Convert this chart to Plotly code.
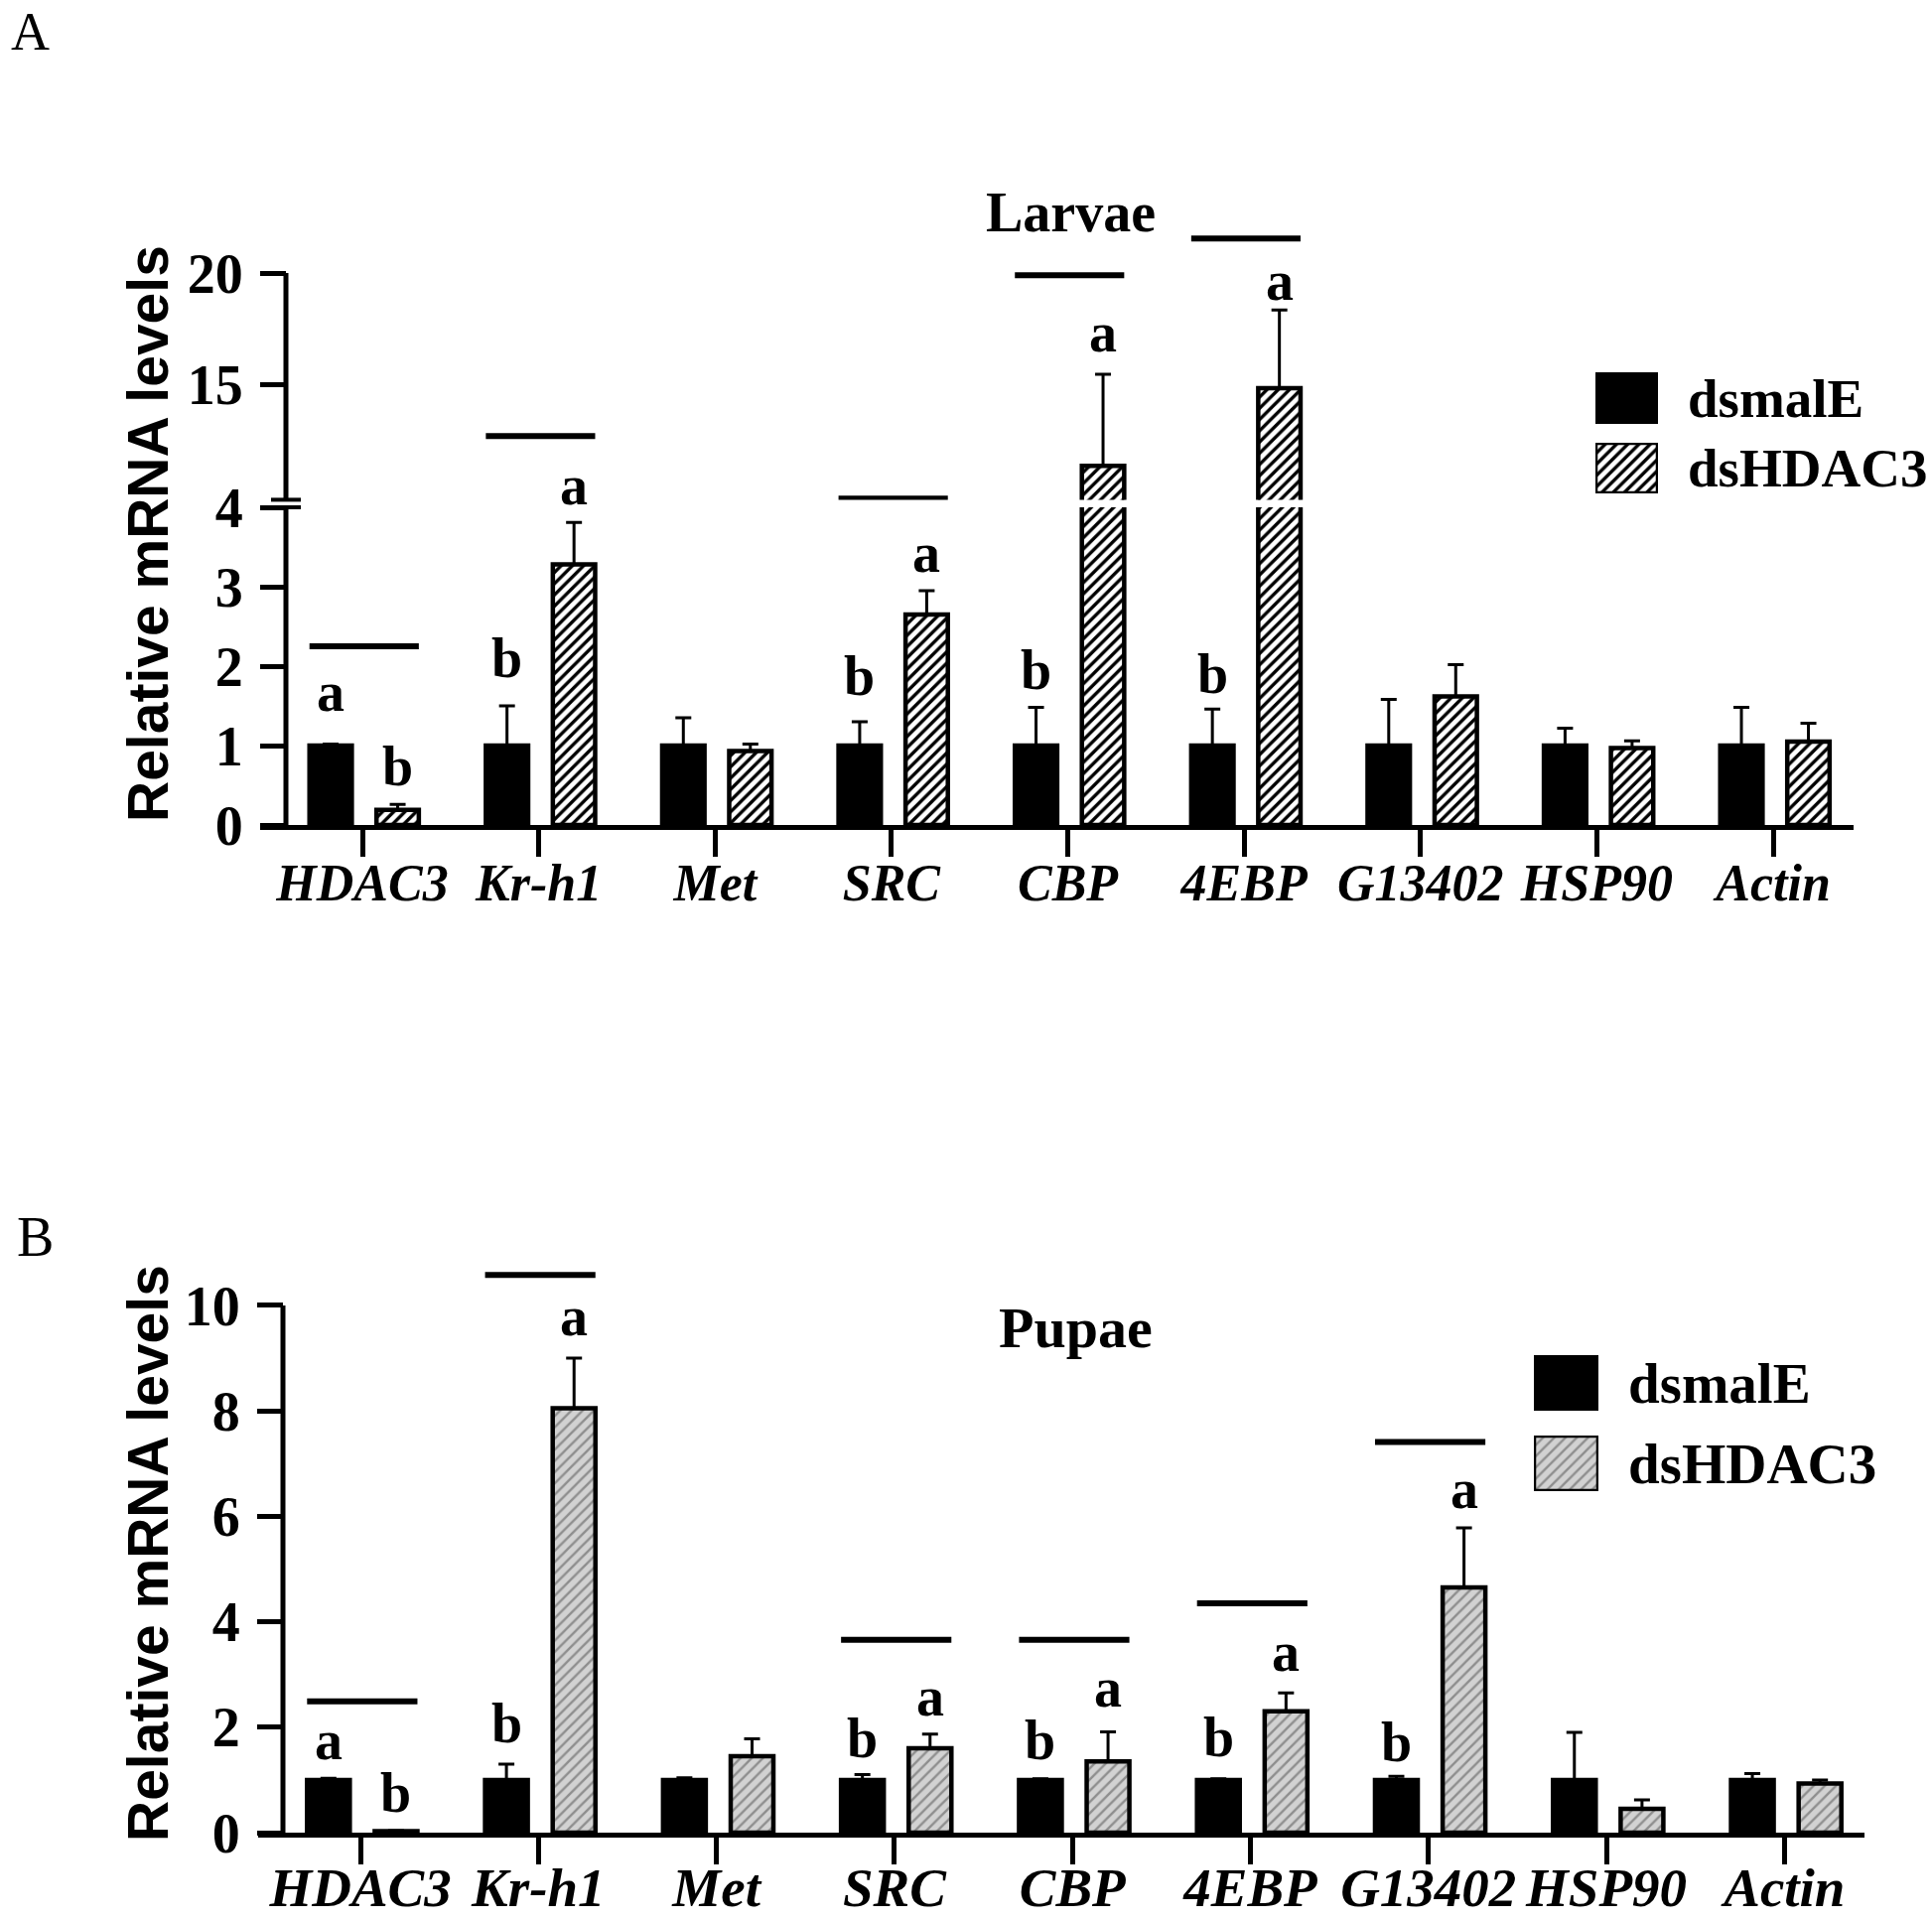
import plotly.graph_objects as go

# genes on the x axis (same order in both panels)
genes = ["HDAC3", "Kr-h1", "Met", "SRC", "CBP", "4EBP", "G13402", "HSP90", "Actin"]

# A: larvae
larvae_dsmalE = [1.0, 1.0, 1.0, 1.0, 1.0, 1.0, 1.0, 1.0, 1.0]
larvae_dsmalE_err = [0.02, 0.5, 0.35, 0.3, 0.48, 0.46, 0.58, 0.22, 0.48]
larvae_dsHDAC3 = [0.19, 3.28, 0.93, 2.65, 11.37, 14.85, 1.62, 0.97, 1.05]
larvae_dsHDAC3_err = [0.07, 0.53, 0.09, 0.3, 4.1, 3.5, 0.4, 0.09, 0.23]

larvae_line_genes = ["HDAC3", "Kr-h1", "SRC", "CBP", "4EBP"]
larvae_line_y = [2.25, 12.7, 9.9, 19.9, 21.55]
larvae_line_seg = ["lo", "up", "up", "up", "up"]

larvae_letter_genes = ["HDAC3", "HDAC3", "Kr-h1", "Kr-h1", "SRC", "SRC", "CBP", "CBP", "4EBP", "4EBP"]
larvae_letter_group = [0, 1, 0, 1, 0, 1, 0, 1, 0, 1]
larvae_letter_text = ["a", "b", "b", "a", "b", "a", "b", "a", "b", "a"]
larvae_letter_y = [1.68, 0.74, 2.1, 10.5, 1.87, 3.43, 1.95, 17.33, 1.9, 19.64]
larvae_letter_seg = ["lo", "lo", "lo", "up", "lo", "lo", "lo", "up", "lo", "up"]

# B: pupae
pupae_dsmalE = [1.0, 1.0, 1.0, 1.0, 1.0, 1.0, 1.0, 1.0, 1.0]
pupae_dsmalE_err = [0.03, 0.3, 0.04, 0.1, 0.02, 0.02, 0.07, 0.9, 0.12]
pupae_dsHDAC3 = [0.03, 8.05, 1.45, 1.6, 1.35, 2.3, 4.65, 0.45, 0.93]
pupae_dsHDAC3_err = [0.01, 0.95, 0.33, 0.27, 0.56, 0.35, 1.13, 0.17, 0.07]

pupae_line_genes = ["HDAC3", "Kr-h1", "SRC", "CBP", "4EBP", "G13402"]
pupae_line_y = [2.49, 10.58, 3.66, 3.66, 4.35, 7.41]

pupae_letter_genes = ["HDAC3", "HDAC3", "Kr-h1", "Kr-h1", "SRC", "SRC", "CBP", "CBP", "4EBP", "4EBP", "G13402", "G13402"]
pupae_letter_group = [0, 1, 0, 1, 0, 1, 0, 1, 0, 1, 0, 1]
pupae_letter_text = ["a", "b", "b", "a", "b", "a", "b", "a", "b", "a", "b", "a"]
pupae_letter_y = [1.75, 0.75, 2.08, 9.8, 1.78, 2.58, 1.75, 2.75, 1.8, 3.42, 1.72, 6.52]

series_names = ["dsmalE", "dsHDAC3"]

W, H = 1946, 1935
SERIF = "Liberation Serif"
SANS = "Liberation Sans"


def fx(px):
    return px / W


def fy(py):
    return 1 - py / H


idx = list(range(len(genes)))
BW = 0.24
OFFSETS = [-0.30, 0.08]
CENTERS = [o + BW / 2 for o in OFFSETS]

hatch_a = dict(shape="/", fgcolor="black", bgcolor="white", size=8, solidity=0.42)
hatch_b = dict(shape="/", fgcolor="#8e8e8e", bgcolor="#d2d2d2", size=8, solidity=0.3)

err_style = dict(type="data", symmetric=False, color="black", thickness=3, width=8)
OUTLINE = 4.5

fig = go.Figure()


def bar_marker(pattern):
    if pattern is None:
        return dict(color="black", line=dict(color="black", width=OUTLINE))
    return dict(color="white", line=dict(color="black", width=OUTLINE), pattern=pattern)


def add_bars(vals, errs, xa, ya, g, pattern):
    fig.add_trace(go.Bar(
        x=idx, y=vals, width=BW, offset=OFFSETS[g], xaxis=xa, yaxis=ya,
        name=series_names[g], marker=bar_marker(pattern), showlegend=False,
        error_y=dict(err_style, array=errs, arrayminus=[0] * len(errs)),
    ))


# panel A: broken axis -> same data on a lower and an upper y axis
for ya in ["y2", "y"]:
    add_bars(larvae_dsmalE, larvae_dsmalE_err, "x", ya, 0, None)
    add_bars(larvae_dsHDAC3, larvae_dsHDAC3_err, "x", ya, 1, hatch_a)

# panel B
add_bars(pupae_dsmalE, pupae_dsmalE_err, "x2", "y3", 0, None)
add_bars(pupae_dsHDAC3, pupae_dsHDAC3_err, "x2", "y3", 1, hatch_b)

# legend swatches as tiny subplots
swatches = [
    ("x3", "y4", 0, None), ("x4", "y5", 1, hatch_a),
    ("x5", "y6", 0, None), ("x6", "y7", 1, hatch_b),
]
for xa, ya, g, pat in swatches:
    fig.add_trace(go.Bar(x=[0], y=[1], width=1, xaxis=xa, yaxis=ya, marker=bar_marker(pat),
                         cliponaxis=False, showlegend=False, name=series_names[g]))

tickfont_num = dict(family=SERIF, size=56, color="black", weight="bold")
tickfont_cat_a = dict(family=SERIF, size=52, color="black", weight="bold", style="italic")
tickfont_cat_b = dict(family=SERIF, size=55, color="black", weight="bold", style="italic")

xcommon = dict(tickmode="array", tickvals=idx, ticktext=genes, showline=True, linecolor="black",
               linewidth=5, ticks="outside", ticklen=27, tickwidth=5, tickcolor="black",
               showgrid=False, zeroline=False, automargin=False, ticklabelstandoff=-18)
ycommon = dict(showline=False, ticks="outside", ticklen=26, tickwidth=5, tickcolor="black",
               showgrid=False, zeroline=False, tickfont=tickfont_num, anchor="free",
               ticklabelstandoff=6, automargin=False)

layout_axes = dict(
    xaxis=dict(xcommon, domain=[fx(262), fx(1867)], range=[-0.58, 8.456], anchor="y2",
               tickfont=tickfont_cat_a),
    yaxis=dict(ycommon, domain=[fy(503.4), fy(230)], range=[9.85, 22], tickvals=[15, 20],
               position=fx(288)),
    yaxis2=dict(ycommon, domain=[fy(831), fy(511)], range=[0, 4], tickvals=[0, 1, 2, 3, 4],
                position=fx(288)),
    xaxis2=dict(xcommon, domain=[fx(260), fx(1878)], range=[-0.575, 8.45], anchor="y3",
                tickfont=tickfont_cat_b, ticklabelstandoff=-24),
    yaxis3=dict(ycommon, domain=[fy(1846), fy(1272.5)], range=[0, 10.8],
                tickvals=[0, 2, 4, 6, 8, 10], position=fx(285)),
)
sw_boxes = [
    (1607, 1670, 375, 427), (1607, 1670, 446, 497),
    (1545, 1610, 1365, 1421), (1545, 1610, 1446, 1502),
]
for k, (x0, x1, y0, y1) in enumerate(sw_boxes):
    layout_axes["xaxis%d" % (k + 3)] = dict(domain=[fx(x0), fx(x1)], range=[-0.5, 0.5],
                                            visible=False, automargin=False,
                                            anchor="y%d" % (k + 4))
    layout_axes["yaxis%d" % (k + 4)] = dict(domain=[fy(y1), fy(y0)], range=[0, 1],
                                            visible=False, automargin=False,
                                            anchor="x%d" % (k + 3))

shapes = []
annotations = []

# y axis lines (panel A broken, panel B plain)
line_style = dict(color="black", width=5)
shapes.append(dict(type="line", xref="paper", yref="y2", x0=fx(288), x1=fx(288), y0=0, y1=4,
                   line=line_style))
shapes.append(dict(type="line", xref="paper", yref="y", x0=fx(288), x1=fx(288), y0=9.85, y1=20,
                   line=line_style))
shapes.append(dict(type="line", xref="paper", yref="y3", x0=fx(285), x1=fx(285), y0=0, y1=10,
                   line=line_style))
# break marks
for py in [503.4, 511]:
    shapes.append(dict(type="line", xref="paper", yref="paper", x0=fx(273), x1=fx(303),
                       y0=fy(py), y1=fy(py), line=dict(color="black", width=4)))

seg_ref = {"lo": "y2", "up": "y"}
sig_line = dict(color="black", width=6)
for gname, yv, seg in zip(larvae_line_genes, larvae_line_y, larvae_line_seg):
    c = genes.index(gname)
    shapes.append(dict(type="line", xref="x", yref=seg_ref[seg], x0=c - 0.30, x1=c + 0.32,
                       y0=yv, y1=yv, line=sig_line))
for gname, yv in zip(pupae_line_genes, pupae_line_y):
    c = genes.index(gname)
    shapes.append(dict(type="line", xref="x2", yref="y3", x0=c - 0.30, x1=c + 0.32,
                       y0=yv, y1=yv, line=sig_line))

letter_font = dict(family=SERIF, size=56, color="black", weight="bold")
for gname, g, t, yv, seg in zip(larvae_letter_genes, larvae_letter_group, larvae_letter_text,
                                larvae_letter_y, larvae_letter_seg):
    annotations.append(dict(xref="x", yref=seg_ref[seg], x=genes.index(gname) + CENTERS[g], y=yv,
                            text=t, showarrow=False, font=letter_font,
                            xanchor="center", yanchor="middle"))
for gname, g, t, yv in zip(pupae_letter_genes, pupae_letter_group, pupae_letter_text,
                           pupae_letter_y):
    annotations.append(dict(xref="x2", yref="y3", x=genes.index(gname) + CENTERS[g], y=yv,
                            text=t, showarrow=False, font=letter_font,
                            xanchor="center", yanchor="middle"))


def paper_text(px, py, text, font, xanchor="center", angle=0, yanchor="middle"):
    return dict(xref="paper", yref="paper", x=fx(px), y=fy(py), text=text, showarrow=False,
                xanchor=xanchor, yanchor=yanchor, textangle=angle, font=font)


annotations += [
    paper_text(30, 0, "A", dict(family=SERIF, size=54, color="black"), yanchor="top"),
    paper_text(35, 1246, "B", dict(family=SERIF, size=56, color="black")),
    paper_text(1078, 214, "Larvae", dict(family=SERIF, size=56, color="black", weight="bold")),
    paper_text(1083, 1337, "Pupae", dict(family=SERIF, size=58, color="black", weight="bold")),
    paper_text(149, 538, "Relative mRNA levels",
               dict(family=SANS, size=57, color="black", weight="bold"), angle=-90),
    paper_text(149, 1565, "Relative mRNA levels",
               dict(family=SANS, size=57, color="black", weight="bold"), angle=-90),
]
legend_text = [(1698, 401, 55), (1698, 471.5, 55), (1638, 1393, 57), (1638, 1474, 57)]
for k, (px, py, fs) in enumerate(legend_text):
    annotations.append(paper_text(px, py, series_names[k % 2],
                                  dict(family=SERIF, size=fs, color="black", weight="bold"),
                                  xanchor="left"))

fig.update_layout(
    template="none",
    width=W, height=H, margin=dict(l=0, r=0, t=0, b=0, pad=0), autosize=False,
    plot_bgcolor="white", paper_bgcolor="white", showlegend=False,
    shapes=shapes, annotations=annotations, **layout_axes,
)

fig.write_html("out.html", config={"displayModeBar": False},
               post_script="document.body.style.margin='0';")
